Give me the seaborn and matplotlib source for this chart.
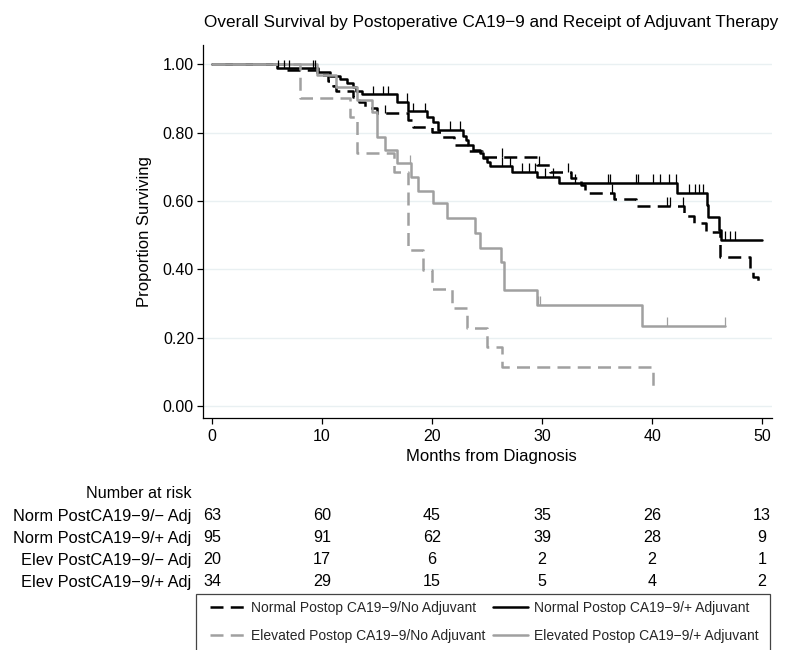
import numpy as np
import pandas as pd
import matplotlib
matplotlib.use("Agg")
import matplotlib.pyplot as plt
from matplotlib.lines import Line2D
from matplotlib.patches import Rectangle
from matplotlib.transforms import blended_transform_factory
import seaborn as sns

# Kaplan-Meier estimates: event times (months) and survival after each step
norm_noadj_t = [0, 6.8, 9.5, 10.5, 11.0, 11.3, 12.8, 13.4, 13.9, 15.0, 17.8, 18.3, 20.0, 20.8,
                22.0, 23.3, 24.5, 29.5, 30.7, 32.6, 33.5, 33.9, 36.5, 38.5, 42.9, 43.8, 44.9,
                46.2, 48.9, 49.2, 49.6]
norm_noadj_s = [1.0, 0.984, 0.968, 0.952, 0.936, 0.921, 0.905, 0.889, 0.873, 0.857, 0.838, 0.817,
                0.802, 0.786, 0.764, 0.745, 0.729, 0.706, 0.685, 0.668, 0.646, 0.624, 0.605,
                0.585, 0.556, 0.536, 0.510, 0.436, 0.404, 0.378, 0.354]
norm_noadj_end = 49.8
norm_noadj_cens = [15.7, 26.4, 29.7, 32.4, 36.4, 41.4, 41.6, 42.8]

norm_adj_t = [0, 5.9, 9.6, 10.7, 11.6, 12.3, 12.8, 13.1, 13.6, 16.8, 17.8, 19.5, 20.1, 20.5,
              22.8, 23.1, 23.3, 23.7, 24.4, 24.6, 25.0, 25.3, 27.3, 29.5, 31.5, 42.3, 45.0,
              45.1, 46.1, 46.3]
norm_adj_s = [1.0, 0.989, 0.978, 0.967, 0.956, 0.945, 0.934, 0.923, 0.912, 0.89, 0.862, 0.846,
              0.83, 0.808, 0.79, 0.777, 0.764, 0.75, 0.74, 0.726, 0.715, 0.703, 0.685, 0.67,
              0.653, 0.624, 0.589, 0.553, 0.515, 0.486]
norm_adj_end = 50.0
norm_adj_cens = [6.0, 6.5, 7.0, 9.2, 9.4, 14.6, 15.5, 16.0, 17.7, 18.3, 19.4, 21.6, 22.5, 26.4,
                 27.1, 28.2, 28.8, 29.4, 30.3, 31.0, 33.0, 36.0, 36.2, 38.5, 38.7, 40.1, 40.7,
                 41.5, 42.2, 43.4, 43.9, 44.3, 44.6, 46.6, 47.1, 47.5]

elev_noadj_t = [0, 8.0, 12.5, 13.2, 16.5, 17.8, 19.2, 20.0, 21.8, 23.2, 25.0, 26.4, 40.1]
elev_noadj_s = [1.0, 0.90, 0.847, 0.741, 0.684, 0.456, 0.399, 0.342, 0.285, 0.228, 0.171,
                0.114, 0.057]
elev_noadj_end = 40.1
elev_noadj_cens = []

elev_adj_t = [0, 9.55, 11.3, 13.2, 14.5, 15.0, 15.7, 16.8, 18.1, 18.7, 20.1, 21.4, 23.9, 24.4,
              26.3, 26.5, 29.5, 39.1]
elev_adj_s = [1.0, 0.97, 0.934, 0.896, 0.86, 0.788, 0.75, 0.71, 0.67, 0.63, 0.594, 0.55, 0.506,
              0.463, 0.42, 0.34, 0.296, 0.234]
elev_adj_end = 46.6
elev_adj_cens = [18.0, 29.6, 29.8, 41.4, 46.6]

group_labels = ["Normal Postop CA19\u22129/No Adjuvant",
                "Normal Postop CA19\u22129/+ Adjuvant",
                "Elevated Postop CA19\u22129/No Adjuvant",
                "Elevated Postop CA19\u22129/+ Adjuvant"]

# Number-at-risk table
risk_months = [0, 10, 20, 30, 40, 50]
risk_row_labels = ["Norm PostCA19\u22129/\u2212 Adj", "Norm PostCA19\u22129/+ Adj",
                   "Elev PostCA19\u22129/\u2212 Adj", "Elev PostCA19\u22129/+ Adj"]
risk_norm_noadj = [63, 60, 45, 35, 26, 13]
risk_norm_adj = [95, 91, 62, 39, 28, 9]
risk_elev_noadj = [20, 17, 6, 2, 2, 1]
risk_elev_adj = [34, 29, 15, 5, 4, 2]

y_ticks = [0.0, 0.2, 0.4, 0.6, 0.8, 1.0]
x_ticks = [0, 10, 20, 30, 40, 50]

curves = [
    (group_labels[0], norm_noadj_t, norm_noadj_s, norm_noadj_end, norm_noadj_cens),
    (group_labels[1], norm_adj_t, norm_adj_s, norm_adj_end, norm_adj_cens),
    (group_labels[2], elev_noadj_t, elev_noadj_s, elev_noadj_end, elev_noadj_cens),
    (group_labels[3], elev_adj_t, elev_adj_s, elev_adj_end, elev_adj_cens),
]

colors = {group_labels[0]: "#000000", group_labels[1]: "#000000",
          group_labels[2]: "#a0a0a0", group_labels[3]: "#a0a0a0"}
dash_pat = (5.2, 2.9)
dashes = {group_labels[0]: dash_pat, group_labels[1]: "",
          group_labels[2]: dash_pat, group_labels[3]: ""}

rows = []
for name, t, s, end, _ in curves:
    for ti, si in zip(list(t) + [end], list(s) + [s[-1]]):
        rows.append({"month": ti, "surv": si, "group": name})
steps = pd.DataFrame(rows)

sns.set_theme(style="white")
plt.rcParams["font.family"] = ["Liberation Sans", "DejaVu Sans"]
plt.rcParams["axes.unicode_minus"] = True

W, H = 805, 650
fig = plt.figure(figsize=(W / 100, H / 100), dpi=100)
ax_left, ax_right, ax_top, ax_bottom = 203, 772, 45, 418
ax = fig.add_axes([ax_left / W, 1 - ax_bottom / H, (ax_right - ax_left) / W,
                   (ax_bottom - ax_top) / H])

lw = 1.8
sns.lineplot(data=steps, x="month", y="surv", hue="group", style="group",
             hue_order=group_labels, style_order=group_labels,
             palette=colors, dashes=dashes, estimator=None, sort=False,
             drawstyle="steps-post", linewidth=lw, legend=False, ax=ax)

# censoring ticks sitting on top of each curve
tick_h = 0.025
for name, t, s, end, cens in curves:
    if not cens:
        continue
    idx = np.searchsorted(np.asarray(t), np.asarray(cens), side="right") - 1
    yc = np.asarray(s)[idx]
    ax.vlines(cens, yc, yc + tick_h, color=colors[name], lw=0.9)

ax.set_xlim(-0.82, 50.9)
ax.set_ylim(-0.0357, 1.0565)
ax.set_yticks(y_ticks)
ax.set_yticklabels([f"{v:.2f}" for v in y_ticks])
ax.set_xticks(x_ticks)
ax.set_xticklabels([str(v) for v in x_ticks])
ax.grid(axis="y", color="#e9f0f2", lw=1)
ax.grid(axis="x", visible=False)
for side in ["top", "right"]:
    ax.spines[side].set_visible(False)
for side in ["left", "bottom"]:
    ax.spines[side].set_color("#000000")
    ax.spines[side].set_linewidth(0.9)
ax.tick_params(axis="both", which="major", direction="out", length=4, width=0.9,
               color="#000000", labelsize=11.5, labelcolor="#000000", pad=2.5,
               left=True, bottom=True)
ax.tick_params(axis="x", pad=4)

ax.set_xlabel("Months from Diagnosis", fontsize=12, color="#000000")
ax.set_ylabel("Proportion Surviving", fontsize=12, color="#000000")
ax.xaxis.set_label_coords(0.507, (ax_bottom - 457) / (ax_bottom - ax_top))
ax.xaxis.label.set_va("center")
ax.yaxis.set_label_coords((145 - ax_left) / (ax_right - ax_left), 0.5)
ax.yaxis.label.set_va("center")

fig.text(491 / W, 1 - 22 / H,
         "Overall Survival by Postoperative CA19\u22129 and Receipt of Adjuvant Therapy",
         ha="center", va="center", fontsize=12.3, color="#000000")

# number at risk table under the x axis
tr = blended_transform_factory(ax.transData, fig.transFigure)
label_x = 191 / W
fig.text(label_x, 1 - 493 / H, "Number at risk", ha="right", va="center",
         fontsize=11.6, color="#000000")
risk_rows = [risk_norm_noadj, risk_norm_adj, risk_elev_noadj, risk_elev_adj]
row_y = [516, 538, 560, 582]
for lab, vals, py in zip(risk_row_labels, risk_rows, row_y):
    fig.text(label_x, 1 - py / H, lab, ha="right", va="center", fontsize=11.8,
             color="#000000")
    for m, v in zip(risk_months, vals):
        ax.text(m, 1 - py / H, str(v), transform=tr, ha="center", va="center",
                fontsize=11.6, color="#000000")

# legend in a box that runs off the bottom edge
fig.patches.append(Rectangle((196 / W, 1 - 665 / H), (770 - 196) / W, (665 - 594) / H,
                             transform=fig.transFigure, fill=False, edgecolor="#444444",
                             lw=0.9))
handles = {name: Line2D([], [], color=colors[name], lw=lw,
                        dashes=dashes[name] if dashes[name] else (None, None))
           for name in group_labels}
order = [group_labels[0], group_labels[2], group_labels[1], group_labels[3]]
fig.legend([handles[n] for n in order], order, loc="upper left",
           bbox_to_anchor=(203 / W, 1 - 594 / H), ncol=2, frameon=False,
           fontsize=10.0, handlelength=2.5, handletextpad=0.42, columnspacing=0.6,
           labelspacing=1.02, borderpad=0.5, borderaxespad=0)

fig.savefig("out.png", dpi=100, facecolor="white")
